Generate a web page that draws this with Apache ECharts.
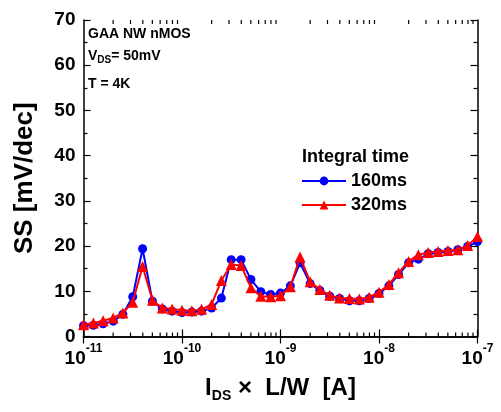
<!DOCTYPE html>
<html>
<head>
<meta charset="utf-8">
<script src="https://cdn.jsdelivr.net/npm/echarts@6/dist/echarts.min.js"></script>
<style>
  html, body { margin: 0; padding: 0; background: #fff; }
  #chart { width: 501px; height: 412px; }
</style>
</head>
<body>
<div id="chart"></div>
<script>
// Normalized drain current I_DS x L/W [A], ten points per decade
const currents = [
  1.00e-11, 1.26e-11, 1.58e-11, 2.00e-11, 2.51e-11, 3.16e-11, 3.98e-11, 5.01e-11, 6.31e-11, 7.94e-11,
  1.00e-10, 1.26e-10, 1.58e-10, 2.00e-10, 2.51e-10, 3.16e-10, 3.98e-10, 5.01e-10, 6.31e-10, 7.94e-10,
  1.00e-9,  1.26e-9,  1.58e-9,  2.00e-9,  2.51e-9,  3.16e-9,  3.98e-9,  5.01e-9,  6.31e-9,  7.94e-9,
  1.00e-8,  1.26e-8,  1.58e-8,  2.00e-8,  2.51e-8,  3.16e-8,  3.98e-8,  5.01e-8,  6.31e-8,  7.94e-8,
  1.00e-7
];

// Subthreshold swing [mV/dec], integral time 160 ms
const ss160 = [
  2.4, 2.5, 2.8, 3.4, 4.9, 8.8, 19.4, 7.8, 6.1, 5.6,
  5.3, 5.4, 5.6, 6.3, 8.5, 17.0, 17.0, 12.6, 9.9, 9.3,
  9.6, 11.2, 16.3, 11.7, 10.2, 8.9, 8.4, 7.9, 7.9, 8.4,
  9.5, 11.2, 13.7, 16.3, 17.1, 18.3, 18.6, 18.8, 19.2, 19.9,
  21.0
];

// Subthreshold swing [mV/dec], integral time 320 ms
const ss320 = [
  2.6, 3.0, 3.5, 4.1, 5.2, 7.6, 15.5, 8.0, 6.3, 6.1,
  5.8, 5.7, 6.0, 7.1, 12.4, 15.9, 15.7, 10.8, 8.9, 8.8,
  9.0, 11.0, 17.6, 12.1, 10.4, 9.1, 8.5, 8.4, 8.3, 8.7,
  9.8, 11.5, 14.1, 16.6, 18.1, 18.6, 18.8, 19.0, 19.2, 20.1,
  22.1
];

const seriesNames = ['160ms', '320ms'];
const legendTitle = 'Integral time';
const notes = ['GAA NW nMOS', 'V_DS= 50mV', 'T = 4K'];

// Minor tick positions (2..9 x each decade) for the logarithmic current axis
const minorTickValues = [
  2e-11, 3e-11, 4e-11, 5e-11, 6e-11, 7e-11, 8e-11, 9e-11,
  2e-10, 3e-10, 4e-10, 5e-10, 6e-10, 7e-10, 8e-10, 9e-10,
  2e-9, 3e-9, 4e-9, 5e-9, 6e-9, 7e-9, 8e-9, 9e-9,
  2e-8, 3e-8, 4e-8, 5e-8, 6e-8, 7e-8, 8e-8, 9e-8
];

const FONT = '"Liberation Sans", Arial, Helvetica, sans-serif';

const chart = echarts.init(document.getElementById('chart'), null, { renderer: 'canvas' });

const axisLineStyle = { color: '#000', width: 1.5 };

const xLabelRich = {
  b: { fontFamily: FONT, fontWeight: 'bold', fontSize: 19, color: '#000', lineHeight: 26, verticalAlign: 'bottom' },
  s: { fontFamily: FONT, fontWeight: 'bold', fontSize: 12, color: '#000', lineHeight: 14, verticalAlign: 'top' }
};

function pair(xs, ys) {
  return xs.map((x, i) => [x, ys[i]]);
}

const option = {
  backgroundColor: '#fff',
  animation: false,
  grid: { left: 83.5, right: 23.5, top: 20, bottom: 75.5, containLabel: false },
  title: {
    text: legendTitle,
    left: 302,
    top: 148,
    textStyle: { fontFamily: FONT, fontWeight: 'bold', fontSize: 18, color: '#000' },
    padding: 0
  },
  legend: {
    data: seriesNames,
    orient: 'vertical',
    left: 301,
    top: 172,
    itemWidth: 44,
    itemHeight: 11,
    itemGap: 6,
    padding: 0,
    textStyle: { fontFamily: FONT, fontWeight: 'bold', fontSize: 18, color: '#000', padding: [0, 0, 0, 0] }
  },
  graphic: [
    {
      type: 'text', left: 88, top: 27, silent: true,
      style: { text: notes[0], font: 'bold 14px ' + FONT, fill: '#000' }
    },
    {
      type: 'text', left: 88, top: 49, silent: true,
      style: {
        text: '{m|V}{sub|DS}{m|= 50mV}',
        rich: {
          m: { fontFamily: FONT, fontWeight: 'bold', fontSize: 14, fill: '#000', lineHeight: 16, verticalAlign: 'top' },
          sub: { fontFamily: FONT, fontWeight: 'bold', fontSize: 10, fill: '#000', lineHeight: 10, verticalAlign: 'bottom' }
        },
        lineHeight: 21
      }
    },
    {
      type: 'text', left: 88, top: 77, silent: true,
      style: { text: notes[2], font: 'bold 14px ' + FONT, fill: '#000' }
    }
  ],
  xAxis: [
    {
      type: 'log',
      logBase: 10,
      min: 1e-11,
      max: 1e-7,
      splitNumber: 4,
      position: 'bottom',
      name: '{i|I}{sub|DS}{i| ×  L/W  [A]}',
      nameLocation: 'middle',
      nameGap: 40,
      nameTextStyle: {
        rich: {
          i: { fontFamily: FONT, fontWeight: 'bold', fontSize: 24, color: '#000', lineHeight: 27, verticalAlign: 'top' },
          sub: { fontFamily: FONT, fontWeight: 'bold', fontSize: 14, color: '#000', lineHeight: 14, verticalAlign: 'bottom' }
        },
        lineHeight: 34
      },
      axisLine: { lineStyle: axisLineStyle },
      axisTick: { inside: true, length: 7, lineStyle: { color: '#000', width: 1.2 } },
      axisLabel: {
        margin: 6,
        formatter: function (v) {
          const e = Math.round(Math.log10(v));
          return '{b|10}{s|' + e + '}';
        },
        rich: xLabelRich
      },
      splitLine: { show: false }
    },
    {
      type: 'log',
      logBase: 10,
      min: 1e-11,
      max: 1e-7,
      splitNumber: 4,
      position: 'top',
      axisLine: { lineStyle: axisLineStyle },
      axisTick: { inside: true, length: 7, lineStyle: { color: '#000', width: 1.2 } },
      axisLabel: { show: false },
      splitLine: { show: false }
    }
  ],
  yAxis: [
    {
      type: 'value',
      min: 0,
      max: 70,
      interval: 10,
      position: 'left',
      name: 'SS [mV/dec]',
      nameLocation: 'middle',
      nameRotate: 90,
      nameGap: 46,
      nameTextStyle: { fontFamily: FONT, fontWeight: 'bold', fontSize: 26, color: '#000' },
      axisLine: { show: true, lineStyle: axisLineStyle },
      axisTick: { show: true, inside: true, length: 7, lineStyle: { color: '#000', width: 1.2 } },
      minorTick: { show: true, splitNumber: 2, length: 4, lineStyle: { color: '#000', width: 1.2 } },
      axisLabel: { margin: 8, fontFamily: FONT, fontWeight: 'bold', fontSize: 19, color: '#000' },
      splitLine: { show: false }
    },
    {
      type: 'value',
      min: 0,
      max: 70,
      interval: 10,
      position: 'right',
      axisLine: { show: true, lineStyle: axisLineStyle },
      axisTick: { show: true, inside: true, length: 7, lineStyle: { color: '#000', width: 1.2 } },
      minorTick: { show: true, splitNumber: 2, length: 4, lineStyle: { color: '#000', width: 1.2 } },
      axisLabel: { show: false },
      splitLine: { show: false }
    }
  ],
  series: [
    {
      name: 'log minor ticks',
      type: 'custom',
      silent: true,
      xAxisIndex: 0,
      yAxisIndex: 0,
      data: minorTickValues.map(v => [v, 0]),
      renderItem: function (params, api) {
        const v = api.value(0);
        const bottom = api.coord([v, 0]);
        const top = api.coord([v, 70]);
        const style = { stroke: '#000', lineWidth: 1.2 };
        return {
          type: 'group',
          children: [
            { type: 'line', shape: { x1: bottom[0], y1: bottom[1], x2: bottom[0], y2: bottom[1] - 4 }, style: style },
            { type: 'line', shape: { x1: top[0], y1: top[1], x2: top[0], y2: top[1] + 4 }, style: style }
          ]
        };
      },
      z: 1
    },
    {
      name: seriesNames[0],
      type: 'line',
      data: pair(currents, ss160),
      symbol: 'circle',
      symbolSize: 9,
      itemStyle: { color: '#0000ff' },
      lineStyle: { color: '#0000ff', width: 2 },
      z: 3
    },
    {
      name: seriesNames[1],
      type: 'line',
      data: pair(currents, ss320),
      symbol: 'triangle',
      symbolSize: 11,
      itemStyle: { color: '#ff0000' },
      lineStyle: { color: '#ff0000', width: 2 },
      z: 4
    }
  ]
};

chart.setOption(option);
</script>
</body>
</html>
